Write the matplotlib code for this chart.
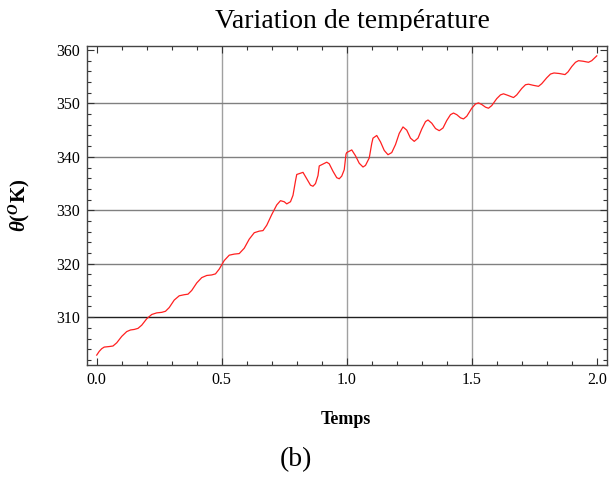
import matplotlib
matplotlib.use("Agg")
import matplotlib.pyplot as plt
from matplotlib.transforms import Bbox, TransformedBbox
from matplotlib.ticker import MultipleLocator

plt.rcParams['font.family'] = ['Liberation Serif', 'DejaVu Serif']
plt.rcParams['mathtext.fontset'] = 'custom'
plt.rcParams['mathtext.rm'] = 'Liberation Serif:bold'
plt.rcParams['mathtext.it'] = 'Liberation Serif:italic:bold'
plt.rcParams['mathtext.bf'] = 'Liberation Serif:bold'

# temperature readings (time, theta)
temps = [0.0, 0.01, 0.02, 0.03, 0.05, 0.065, 0.08, 0.10, 0.12, 0.135,
         0.15, 0.165, 0.18, 0.20, 0.22, 0.24, 0.26, 0.275, 0.29, 0.31,
         0.33, 0.35, 0.365, 0.38, 0.40, 0.42, 0.44, 0.46, 0.475, 0.49,
         0.51, 0.53, 0.55, 0.57, 0.59, 0.61, 0.63, 0.65, 0.665, 0.68,
         0.70, 0.72, 0.735, 0.75, 0.76, 0.775, 0.785, 0.795, 0.80, 0.825,
         0.84, 0.855, 0.865, 0.875, 0.885, 0.89, 0.92, 0.93, 0.945, 0.96,
         0.97, 0.98, 0.99, 0.997, 1.0, 1.02, 1.035, 1.05, 1.065, 1.075,
         1.09, 1.10, 1.105, 1.12, 1.135, 1.15, 1.165, 1.18, 1.195, 1.21,
         1.225, 1.24, 1.255, 1.27, 1.285, 1.30, 1.315, 1.325, 1.34, 1.355,
         1.37, 1.385, 1.40, 1.415, 1.427, 1.44, 1.455, 1.467, 1.48, 1.50,
         1.515, 1.527, 1.54, 1.555, 1.567, 1.58, 1.60, 1.615, 1.627, 1.645,
         1.667, 1.68, 1.70, 1.715, 1.727, 1.745, 1.767, 1.78, 1.80, 1.815,
         1.829, 1.85, 1.873, 1.885, 1.90, 1.915, 1.927, 1.945, 1.967, 1.98,
         2.0]
theta = [302.9, 303.6, 304.1, 304.4, 304.5, 304.6, 305.2, 306.4, 307.3, 307.6,
         307.7, 307.9, 308.5, 309.7, 310.5, 310.8, 310.9, 311.1, 311.8, 313.2,
         314.0, 314.2, 314.3, 315.0, 316.4, 317.4, 317.8, 317.9, 318.1, 319.0,
         320.6, 321.6, 321.8, 321.9, 322.9, 324.6, 325.8, 326.1, 326.2, 327.2,
         329.2, 331.0, 331.8, 331.6, 331.2, 331.6, 332.8, 335.5, 336.7, 337.1,
         335.9, 334.7, 334.5, 335.0, 336.5, 338.3, 339.0, 338.7, 337.3, 336.1,
         335.9, 336.4, 337.6, 340.5, 340.8, 341.3, 340.2, 338.8, 338.1, 338.4,
         339.8, 342.5, 343.5, 344.0, 342.8, 341.2, 340.4, 340.8, 342.3, 344.4,
         345.6, 345.0, 343.5, 342.9, 343.5, 345.2, 346.6, 346.9, 346.3, 345.3,
         344.9, 345.4, 346.8, 347.9, 348.2, 347.9, 347.3, 347.1, 347.6, 349.1,
         349.9, 350.1, 349.8, 349.3, 349.1, 349.6, 350.9, 351.6, 351.8, 351.5,
         351.1, 351.6, 352.8, 353.5, 353.6, 353.4, 353.2, 353.7, 354.8, 355.5,
         355.7, 355.6, 355.4, 355.9, 356.9, 357.7, 358.0, 357.9, 357.7, 358.0,
         358.9]

xticks = [0.0, 0.5, 1.0, 1.5, 2.0]
yticks = [310, 320, 330, 340, 350, 360]

fig = plt.figure(figsize=(6.16, 4.79), dpi=100)
ax = fig.add_axes([0.1412, 0.2386, 0.8438, 0.6654])

# grid lines
for xv in xticks[1:-1]:
    ax.axvline(xv, color='#a0a0a0', lw=1.0, zorder=1)
for yv in yticks[1:-1]:
    ax.axhline(yv, color='#808080', lw=1.0, zorder=1)
ax.axhline(310, color='#202020', lw=1.0, zorder=1)

ax.plot(temps, theta, color='#ff2020', lw=0.9, zorder=3)

ax.set_xlim(-0.039, 2.04)
ax.set_ylim(301.1, 360.75)
ax.set_xticks(xticks)
ax.set_xticklabels(['0.0', '0.5', '1.0', '1.5', '2.0'])
ax.set_yticks(yticks)
ax.xaxis.set_minor_locator(MultipleLocator(0.1))
ax.yaxis.set_minor_locator(MultipleLocator(2))
ax.tick_params(which='both', direction='in', top=True, right=True,
               color='#333333', width=0.8, labelsize=11.5)
ax.tick_params(which='major', length=5, pad=5)
ax.tick_params(which='minor', length=3)
for s in ax.spines.values():
    s.set_color('#444444')
    s.set_linewidth(1.0)

ax.set_ylabel(r'$\theta(^{O}\mathrm{K})$', fontsize=15)
ax.yaxis.set_label_coords(-0.106, 0.5)

fig.text(346 / 616, 1 - 420 / 479, 'Temps', fontsize=13, fontweight='bold',
         ha='center', va='center')
fig.text(296 / 616, 1 - 460 / 479, '(b)', fontsize=20, ha='center', va='center')

title = fig.text(352 / 616, 1 - 21 / 479, 'Variation de température',
                 fontsize=20, ha='center', va='center')
title.set_clip_box(TransformedBbox(Bbox([[0, 1 - 31 / 479], [1, 1]]),
                                   fig.transFigure))
title.set_clip_on(True)

fig.savefig('out.png', dpi=100)
